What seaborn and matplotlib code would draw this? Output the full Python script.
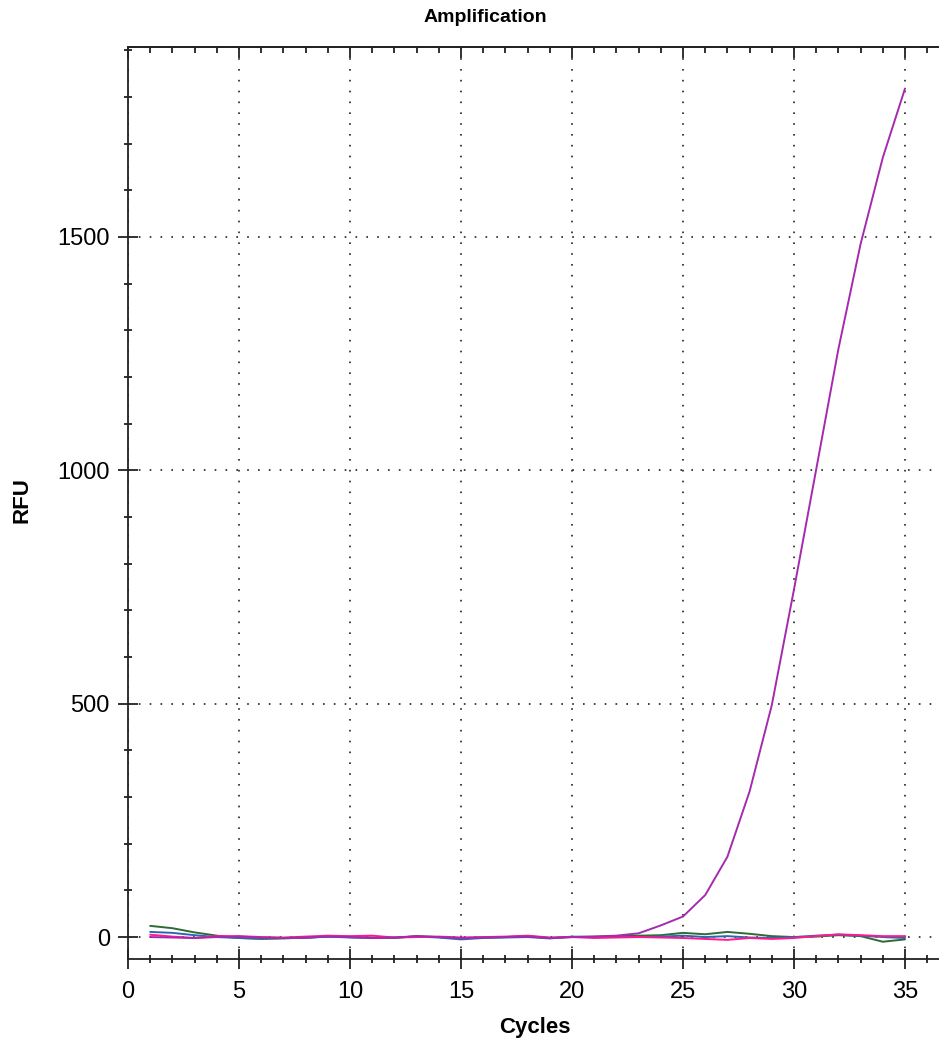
import numpy as np
import pandas as pd
import matplotlib
matplotlib.use("Agg")
import matplotlib.pyplot as plt
from matplotlib.ticker import MultipleLocator
import seaborn as sns

# -- Datos ---------------------------------------------------------------------
ciclos = list(range(1, 36))

muestra_pos = [0, -1, -2, 0, 1, -1, -2, -1, 1, 0, -2, -1, 2, 0, -2, -1, 0, 1,
               -2, 0, 1, 3, 8, 25, 44, 90, 172, 312, 497, 745, 1002, 1260,
               1485, 1670, 1818]
verde = [24, 19, 10, 3, -2, -4, -3, -1, 1, 0, -1, -2, 2, 0, -3, -1, 0, 2,
         -2, 0, 1, 2, 3, 4, 9, 6, 11, 7, 2, 0, 1, 4, 2, -10, -5]
azul = [11, 9, 4, 0, -2, -3, -2, -2, 1, -1, -2, -1, 1, -1, -5, -2, -1, 0,
        -3, 1, 0, 1, 0, 1, 3, 0, 2, -1, -2, 0, 3, 5, 3, 0, -2]
rosa = [5, 1, -2, 2, 2, 0, -1, 1, 3, 2, 3, -1, 0, 1, -1, 0, 1, 3,
        -1, 0, -2, -1, 0, -1, -2, -4, -6, -2, -4, -2, 2, 6, 4, 2, 2]

pocillos = ["B1", "C1", "D1", "A1"]
series = [verde, azul, rosa, muestra_pos]
COLORES = {"B1": "#2E6B35", "C1": "#2B67B0", "D1": "#FF1A8C", "A1": "#A52AAE"}

df = pd.DataFrame({
    "ciclo": ciclos * len(pocillos),
    "RFU": sum(series, []),
    "pocillo": np.repeat(pocillos, len(ciclos)),
})

sns.set_style("white")
plt.rcParams["font.family"] = ["Liberation Sans", "DejaVu Sans"]
plt.rcParams["text.color"] = "black"
plt.rcParams["xtick.labelcolor"] = "black"
plt.rcParams["ytick.labelcolor"] = "black"

fig = plt.figure(figsize=(9.39, 10.43), dpi=100)
ax = fig.add_axes([128 / 939, 84 / 1043, 811 / 939, 912 / 1043])

sns.lineplot(data=df, x="ciclo", y="RFU", hue="pocillo", hue_order=pocillos,
             palette=COLORES, linewidth=1.4, legend=False, ax=ax)

ax.set_xlim(0, 811 / 22.2)
ax.set_ylim(-47, 1907)

ax.xaxis.set_major_locator(MultipleLocator(5))
ax.xaxis.set_minor_locator(MultipleLocator(1))
ax.yaxis.set_major_locator(MultipleLocator(500))
ax.yaxis.set_minor_locator(MultipleLocator(100))

for lado in ["left", "bottom", "top"]:
    ax.spines[lado].set_color("#222222")
    ax.spines[lado].set_linewidth(1.3)
ax.spines["right"].set_visible(False)

ax.tick_params(axis="both", which="both", bottom=True, left=True,
               top=False, right=False)
ax.tick_params(axis="both", which="major", direction="inout", length=14,
               width=1.3, color="#222222", labelsize=17)
ax.tick_params(axis="both", which="minor", direction="inout", length=6,
               width=1.3, color="#222222")
ax.tick_params(axis="x", which="major", pad=9)
ax.tick_params(axis="y", which="major", pad=6)

# ticks del borde superior, solo hacia dentro
arriba = ax.secondary_xaxis("top")
arriba.xaxis.set_major_locator(MultipleLocator(5))
arriba.xaxis.set_minor_locator(MultipleLocator(1))
arriba.tick_params(which="both", top=True)
arriba.tick_params(which="major", direction="in", length=8, width=1.3,
                   color="#222222", labeltop=False)
arriba.tick_params(which="minor", direction="in", length=4, width=1.3,
                   color="#222222")
arriba.spines["top"].set_color("#222222")
arriba.spines["top"].set_linewidth(1.3)

ax.grid(True, which="major", color="#222222", linestyle=(0, (1, 5.5)),
        linewidth=1.2)

ax.set_xlabel("")
ax.set_ylabel("")
fig.text(485 / 939, 1 - 18 / 1043, "Amplification", ha="center", va="center",
         fontsize=14, fontweight="bold")
fig.text(22 / 939, 1 - 500 / 1043, "RFU", ha="center", va="center",
         rotation=90, fontsize=16, fontweight="bold")
fig.text(535 / 939, 1 - 1027 / 1043, "Cycles", ha="center", va="center",
         fontsize=16, fontweight="bold")

fig.savefig("out.png", dpi=100)
plt.close(fig)
